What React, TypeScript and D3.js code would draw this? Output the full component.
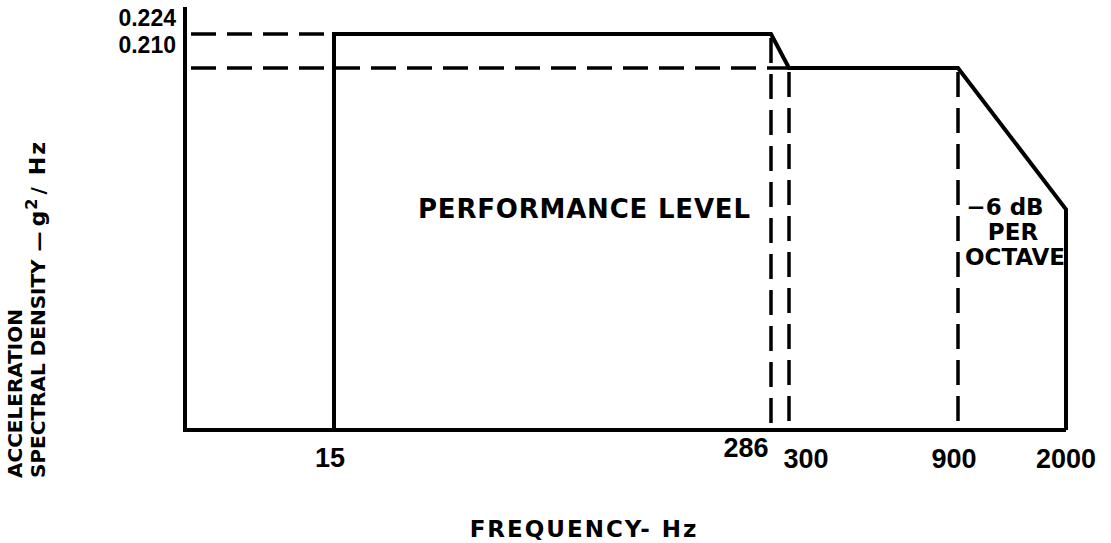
import React from "react";
import * as d3 from "d3";

// ---- data ----
const profileFreq = [15, 15, 286, 300, 900, 2000, 2000];
const profilePsd = [0, 0.224, 0.224, 0.21, 0.21, 0.128, 0];
const xTickValues = [15, 286, 300, 900, 2000];
const xTickLabels = ["15", "286", "300", "900", "2000"];
const yTickValues = [0.224, 0.21];
const yTickLabels = ["0.224", "0.210"];
const refFreqs = [286, 300, 900];

const W = 1111;
const H = 543;

// schematic (not-to-scale) axes: piecewise log scale through the marked breakpoints
const x = d3
  .scaleLog()
  .domain([5, 15, 286, 300, 900, 2000])
  .range([185, 334, 771, 789, 958, 1066]);
const y = d3.scaleLinear().domain([0, 0.21, 0.224]).range([430, 68, 34]);

const labelOffsets: Record<string, { dx: number; dy: number }> = {
  "15": { dx: -4, dy: 37 },
  "286": { dx: -25, dy: 27 },
  "300": { dx: 17, dy: 38 },
  "900": { dx: -4, dy: 38 },
  "2000": { dx: 0, dy: 38 },
};

const WORD = "'DejaVu Sans', sans-serif";
const NUM = "'Liberation Sans', Arial, sans-serif";

export default function App() {
  const pts: [number, number][] = profileFreq.map((f, i) => [x(f), y(profilePsd[i])]);
  const line = d3.line();
  const x0 = x.range()[0];
  const xEnd = x(2000);
  const yBase = y(0);
  const dash = "25 11";

  return (
    <svg
      width={W}
      height={H}
      viewBox={`0 0 ${W} ${H}`}
      style={{ position: "absolute", left: 0, top: 0, background: "#fff" }}
    >
      <rect width={W} height={H} fill="#fff" />
      {/* axes */}
      <line x1={x0} y1={7} x2={x0} y2={yBase + 2} stroke="#000" strokeWidth={4} />
      <line x1={x0 - 2} y1={yBase} x2={xEnd} y2={yBase} stroke="#000" strokeWidth={4} />

      {/* dashed reference lines */}
      <line x1={x0 + 6} y1={y(0.224)} x2={x(15)} y2={y(0.224)} stroke="#000" strokeWidth={3.5} strokeDasharray={dash} />
      <line x1={x0 + 6} y1={y(0.21)} x2={x(300)} y2={y(0.21)} stroke="#000" strokeWidth={3.5} strokeDasharray={dash} />
      {refFreqs.map((f) => {
        const top = f === 286 ? y(0.224) : y(0.21);
        return (
          <line key={f} x1={x(f)} y1={top + 4} x2={x(f)} y2={yBase} stroke="#000" strokeWidth={3.5} strokeDasharray={dash} />
        );
      })}

      {/* profile */}
      <path d={line(pts) || ""} fill="none" stroke="#000" strokeWidth={4} strokeLinejoin="miter" />

      {/* y tick labels */}
      {yTickValues.map((v, i) => (
        <text
          key={v}
          x={176}
          y={y(v) - (i === 0 ? 8 : 15)}
          textAnchor="end"
          fontFamily={NUM}
          fontWeight="bold"
          fontSize={23}
        >
          {yTickLabels[i]}
        </text>
      ))}

      {/* x tick labels */}
      {xTickValues.map((v, i) => {
        const o = labelOffsets[xTickLabels[i]];
        return (
          <text
            key={v}
            x={x(v) + o.dx}
            y={yBase + o.dy}
            textAnchor="middle"
            fontFamily={NUM}
            fontWeight="bold"
            fontSize={27}
          >
            {xTickLabels[i]}
          </text>
        );
      })}

      {/* annotations */}
      <text x={418} y={218} fontFamily={WORD} fontWeight="bold" fontSize={26} letterSpacing={0.8}>
        PERFORMANCE LEVEL
      </text>
      <g fontFamily={WORD} fontWeight="bold" fontSize={23} textAnchor="middle">
        <text x={1005} y={215}>−6 dB</text>
        <text x={1013} y={240}>PER</text>
        <text x={1015} y={265}>OCTAVE</text>
      </g>

      {/* axis titles */}
      <text x={584} y={537} textAnchor="middle" fontFamily={WORD} fontWeight="bold" fontSize={23} letterSpacing={2}>
        FREQUENCY- Hz
      </text>
      <g fontFamily={WORD} fontWeight="bold" fontSize={20}>
        <text transform="translate(22,478) rotate(-90)">ACCELERATION</text>
        <text transform="translate(45,478) rotate(-90)">
          SPECTRAL DENSITY
          <tspan dx={8}>—</tspan>
          <tspan dx={5} fontSize={22}>g</tspan>
          <tspan dx={1} dy={-8} fontSize={16}>2</tspan>
          <tspan dx={4} dy={8}>/</tspan>
          <tspan dx={12} fontSize={22} letterSpacing={2}>Hz</tspan>
        </text>
      </g>
    </svg>
  );
}
